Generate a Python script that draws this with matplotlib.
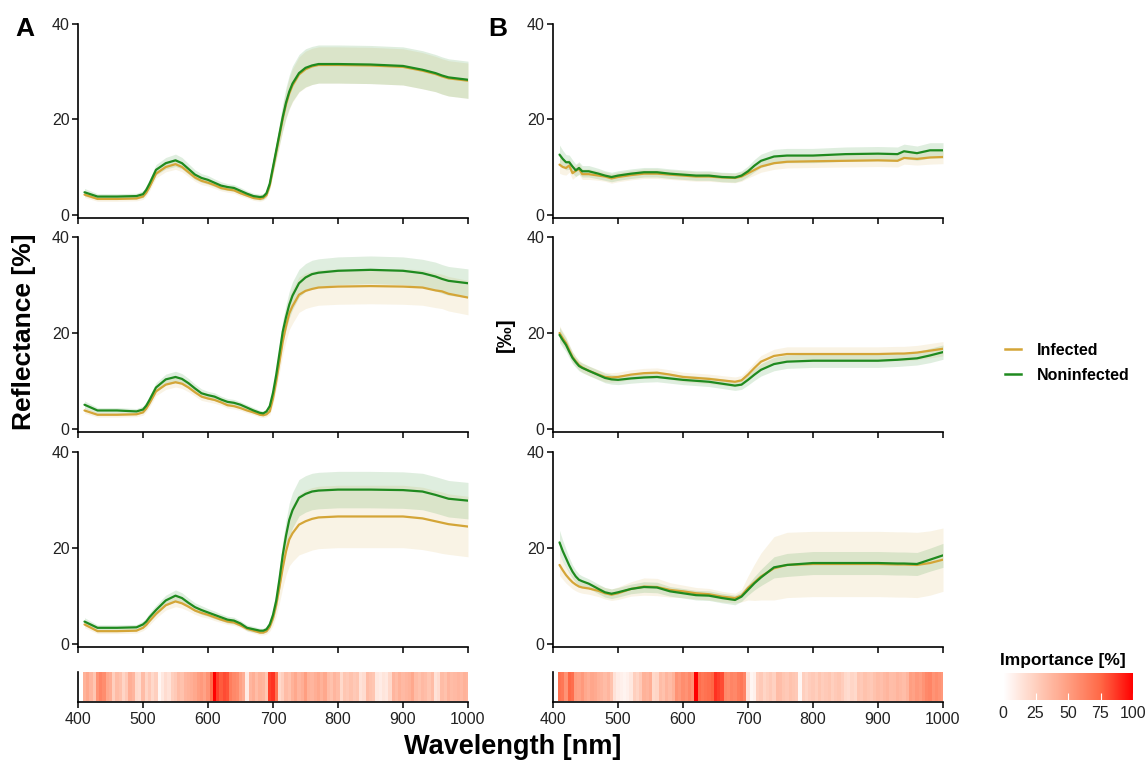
import numpy as np
import matplotlib
matplotlib.use("Agg")
import matplotlib.pyplot as plt
from matplotlib.colors import LinearSegmentedColormap
from matplotlib.lines import Line2D

plt.rcParams['font.family'] = ['Liberation Sans', 'DejaVu Sans']

# ---------------- data ----------------
wl_A = [410, 430, 460, 490, 500, 505, 510, 520, 535, 550, 560, 570, 580, 590, 600, 610,
        620, 630, 640, 650, 660, 670, 680, 685, 690, 695, 700, 705, 710, 715, 720, 725,
        730, 740, 750, 760, 770, 800, 850, 900, 930, 950, 960, 970, 1000]

A1_non = [4.7, 3.8, 3.8, 3.9, 4.3, 5.2, 6.5, 9.4, 10.8, 11.4, 10.8, 9.6, 8.4, 7.7, 7.3, 6.7,
          6.1, 5.8, 5.6, 5.0, 4.4, 3.9, 3.7, 3.8, 4.5, 6.5, 10.0, 13.5, 17.0, 20.5, 23.5, 25.8,
          27.5, 29.7, 30.8, 31.3, 31.6, 31.6, 31.5, 31.2, 30.4, 29.7, 29.2, 28.8, 28.3]
A1_inf = [4.2, 3.3, 3.3, 3.4, 3.8, 4.6, 5.8, 8.6, 10.0, 10.6, 10.0, 8.9, 7.8, 7.1, 6.7, 6.2,
          5.6, 5.3, 5.1, 4.5, 4.0, 3.5, 3.3, 3.5, 4.1, 6.1, 9.6, 13.1, 16.6, 20.1, 23.1, 25.4,
          27.1, 29.4, 30.5, 31.1, 31.4, 31.4, 31.3, 31.0, 30.2, 29.5, 29.0, 28.6, 28.1]
A2_non = [5.0, 3.8, 3.8, 3.6, 4.0, 4.8, 6.0, 8.6, 10.3, 10.8, 10.4, 9.5, 8.4, 7.4, 7.0, 6.7,
          6.1, 5.6, 5.4, 5.0, 4.4, 3.8, 3.3, 3.2, 3.6, 4.7, 7.5, 11.3, 15.8, 20.3, 23.3, 25.9,
          27.8, 30.4, 31.6, 32.3, 32.6, 33.0, 33.2, 33.0, 32.5, 31.8, 31.3, 30.9, 30.4]
A2_inf = [3.8, 2.9, 2.9, 3.0, 3.4, 4.2, 5.3, 7.8, 9.2, 9.7, 9.4, 8.6, 7.6, 6.7, 6.3, 6.0,
          5.5, 4.9, 4.7, 4.3, 3.8, 3.4, 2.9, 2.8, 3.0, 3.6, 6.3, 9.9, 14.0, 18.2, 21.4, 24.1,
          25.6, 28.0, 28.8, 29.2, 29.5, 29.7, 29.8, 29.7, 29.5, 28.9, 28.7, 28.2, 27.4]
A3_non = [4.6, 3.3, 3.3, 3.4, 4.0, 4.6, 5.5, 7.0, 9.0, 10.0, 9.5, 8.5, 7.6, 7.0, 6.5, 6.0,
          5.5, 5.0, 4.8, 4.2, 3.3, 3.0, 2.7, 2.7, 3.0, 4.0, 6.0, 9.0, 13.5, 18.5, 22.5, 25.8,
          27.8, 30.4, 31.2, 31.7, 31.9, 32.1, 32.1, 32.0, 31.7, 31.0, 30.6, 30.2, 29.8]
A3_inf = [4.0, 2.6, 2.6, 2.7, 3.3, 3.9, 4.7, 6.2, 8.0, 8.8, 8.4, 7.7, 6.9, 6.4, 6.0, 5.5,
          5.0, 4.6, 4.4, 3.8, 3.1, 2.7, 2.3, 2.3, 2.6, 3.5, 5.3, 8.1, 11.8, 15.8, 19.2, 21.7,
          23.0, 24.8, 25.5, 26.0, 26.3, 26.5, 26.5, 26.5, 26.1, 25.5, 25.2, 24.9, 24.4]

A1_non_sd = [0.8, 0.6, 0.6, 0.6, 0.7, 0.8, 0.9, 1.1, 1.2, 1.3, 1.2, 1.1, 1.0, 0.9, 0.9, 0.8,
             0.8, 0.7, 0.7, 0.7, 0.6, 0.6, 0.6, 0.6, 0.7, 0.9, 1.3, 1.8, 2.3, 2.8, 3.2, 3.5,
             3.7, 3.9, 4.0, 4.0, 4.0, 4.0, 4.0, 4.0, 4.0, 3.9, 3.9, 3.9, 3.9]
A1_inf_sd = [0.6, 0.5, 0.5, 0.5, 0.6, 0.7, 0.8, 0.9, 1.0, 1.1, 1.0, 0.9, 0.8, 0.8, 0.7, 0.7,
             0.6, 0.6, 0.6, 0.6, 0.5, 0.5, 0.5, 0.5, 0.6, 0.8, 1.1, 1.6, 2.1, 2.6, 3.0, 3.3,
             3.5, 3.7, 3.8, 3.8, 3.8, 3.8, 3.8, 3.8, 3.8, 3.7, 3.7, 3.7, 3.7]
A2_non_sd = [0.8, 0.6, 0.6, 0.6, 0.7, 0.8, 0.9, 1.0, 1.1, 1.2, 1.1, 1.0, 0.9, 0.9, 0.8, 0.8,
             0.7, 0.7, 0.7, 0.6, 0.6, 0.6, 0.5, 0.5, 0.6, 0.8, 1.1, 1.5, 1.9, 2.3, 2.6, 2.8,
             2.9, 2.9, 2.9, 2.9, 2.9, 2.9, 2.9, 2.9, 2.9, 3.0, 3.0, 3.0, 3.0]
A2_inf_sd = [0.6, 0.5, 0.5, 0.5, 0.6, 0.7, 0.8, 0.9, 1.0, 1.0, 1.0, 0.9, 0.8, 0.8, 0.7, 0.7,
             0.6, 0.6, 0.6, 0.5, 0.5, 0.5, 0.5, 0.5, 0.5, 0.7, 1.1, 1.6, 2.2, 2.7, 3.1, 3.4,
             3.6, 3.7, 3.7, 3.7, 3.7, 3.7, 3.7, 3.7, 3.7, 3.6, 3.6, 3.6, 3.6]
A3_non_sd = [0.8, 0.6, 0.6, 0.6, 0.7, 0.8, 0.9, 1.0, 1.1, 1.2, 1.1, 1.0, 0.9, 0.9, 0.8, 0.8,
             0.7, 0.7, 0.7, 0.6, 0.6, 0.6, 0.5, 0.5, 0.6, 0.8, 1.2, 1.7, 2.3, 2.8, 3.2, 3.5,
             3.7, 3.8, 3.8, 3.8, 3.8, 3.8, 3.8, 3.8, 3.8, 3.8, 3.8, 3.8, 3.8]
A3_inf_sd = [0.7, 0.5, 0.5, 0.5, 0.6, 0.7, 0.8, 0.9, 1.0, 1.1, 1.0, 0.9, 0.8, 0.8, 0.7, 0.7,
             0.6, 0.6, 0.6, 0.5, 0.5, 0.5, 0.5, 0.5, 0.6, 0.9, 1.5, 2.3, 3.2, 4.1, 4.9, 5.5,
             5.9, 6.3, 6.5, 6.5, 6.5, 6.5, 6.5, 6.5, 6.5, 6.4, 6.4, 6.3, 6.3]

wl_B = [410, 415, 420, 425, 430, 435, 440, 445, 455, 470, 480, 490, 500, 520, 540,
        560, 580, 600, 620, 640, 660, 680, 690, 700, 710, 720, 740, 760, 800, 850,
        900, 930, 940, 960, 980, 1000]

B1_non = [12.6, 11.7, 11.0, 11.0, 10.1, 9.3, 9.8, 9.1, 9.1, 8.6, 8.2, 7.9, 8.2, 8.6, 8.9,
          8.9, 8.6, 8.4, 8.2, 8.2, 7.9, 7.8, 8.2, 9.1, 10.3, 11.3, 12.2, 12.4, 12.4, 12.7,
          12.8, 12.7, 13.3, 12.9, 13.5, 13.5]
B1_inf = [10.5, 10.0, 9.8, 10.3, 8.7, 9.2, 9.6, 8.5, 8.5, 8.2, 8.0, 7.6, 7.9, 8.3, 8.6,
          8.6, 8.4, 8.2, 8.0, 8.0, 7.8, 7.7, 8.0, 8.7, 9.4, 10.1, 10.8, 11.1, 11.2, 11.3,
          11.4, 11.3, 11.9, 11.7, 12.0, 12.1]
B2_non = [19.6, 18.5, 17.5, 16.1, 14.8, 13.9, 13.1, 12.7, 12.1, 11.2, 10.6, 10.3, 10.2, 10.5, 10.7,
          10.8, 10.5, 10.2, 10.0, 9.8, 9.4, 9.0, 9.2, 10.2, 11.3, 12.3, 13.5, 14.0, 14.2, 14.2,
          14.2, 14.4, 14.5, 14.7, 15.3, 16.0]
B2_inf = [20.0, 18.9, 17.9, 16.4, 15.0, 14.1, 13.3, 12.8, 12.1, 11.3, 10.8, 10.7, 10.8, 11.3, 11.6,
          11.7, 11.3, 10.8, 10.6, 10.4, 10.1, 9.8, 10.1, 11.3, 12.7, 14.0, 15.2, 15.6, 15.6, 15.6,
          15.6, 15.7, 15.7, 15.9, 16.3, 16.7]
B3_non = [21.1, 19.3, 17.8, 16.3, 15.0, 14.0, 13.3, 13.0, 12.5, 11.4, 10.7, 10.4, 10.7, 11.4, 11.8,
          11.7, 10.9, 10.5, 10.1, 10.0, 9.5, 9.1, 9.8, 11.2, 12.6, 13.8, 15.9, 16.4, 16.8, 16.8,
          16.8, 16.7, 16.7, 16.6, 17.5, 18.4]
B3_inf = [16.4, 15.3, 14.3, 13.5, 12.8, 12.3, 11.9, 11.7, 11.5, 11.0, 10.5, 10.2, 10.5, 11.4, 11.9,
          11.8, 11.2, 10.9, 10.5, 10.3, 9.8, 9.5, 10.0, 11.6, 12.8, 14.0, 15.7, 16.4, 16.6, 16.6,
          16.6, 16.5, 16.5, 16.4, 16.8, 17.5]

B1_non_sd = [2.0, 1.8, 1.6, 1.5, 1.4, 1.3, 1.3, 1.2, 1.2, 1.1, 1.0, 1.0, 1.0, 1.0, 1.0,
             1.0, 1.0, 1.0, 1.0, 1.0, 1.0, 1.0, 1.0, 1.1, 1.3, 1.4, 1.5, 1.5, 1.5, 1.5,
             1.5, 1.5, 1.5, 1.5, 1.6, 1.6]
B1_inf_sd = [1.8, 1.6, 1.5, 1.4, 1.3, 1.2, 1.2, 1.1, 1.1, 1.0, 1.0, 1.0, 1.0, 1.0, 1.0,
             1.0, 1.0, 1.0, 1.0, 1.0, 1.0, 1.0, 1.0, 1.0, 1.1, 1.2, 1.3, 1.3, 1.3, 1.3,
             1.3, 1.3, 1.3, 1.3, 1.4, 1.4]
B2_non_sd = [1.6, 1.5, 1.4, 1.3, 1.2, 1.1, 1.0, 1.0, 1.0, 1.0, 1.0, 1.0, 1.0, 1.0, 1.0,
             1.0, 1.0, 1.0, 1.0, 1.0, 1.0, 1.0, 1.0, 1.1, 1.2, 1.3, 1.4, 1.4, 1.4, 1.4,
             1.4, 1.4, 1.4, 1.4, 1.5, 1.5]
B2_inf_sd = [1.5, 1.4, 1.3, 1.2, 1.1, 1.0, 1.0, 1.0, 1.0, 1.0, 1.0, 1.0, 1.0, 1.0, 1.0,
             1.0, 1.0, 1.0, 1.0, 1.0, 1.0, 1.0, 1.0, 1.1, 1.2, 1.3, 1.4, 1.5, 1.5, 1.5,
             1.5, 1.5, 1.5, 1.5, 1.5, 1.5]
B3_non_sd = [2.5, 2.2, 1.9, 1.6, 1.4, 1.3, 1.2, 1.1, 1.0, 1.0, 1.0, 1.0, 1.0, 1.0, 1.1,
             1.1, 1.0, 1.0, 1.0, 1.0, 1.0, 1.0, 1.0, 1.1, 1.4, 1.7, 2.2, 2.4, 2.4, 2.4,
             2.4, 2.4, 2.4, 2.4, 2.4, 2.5]
B3_inf_sd = [2.2, 1.9, 1.7, 1.5, 1.4, 1.3, 1.2, 1.2, 1.2, 1.2, 1.2, 1.2, 1.3, 1.5, 1.8,
             1.8, 1.5, 1.3, 1.2, 1.2, 1.1, 1.0, 1.3, 2.5, 3.8, 4.9, 6.6, 6.8, 6.8, 6.8,
             6.8, 6.8, 6.8, 6.8, 6.7, 6.6]

# importance (%) on a 5 nm grid, 410..1000 nm
imp_wl = list(range(410, 1001, 5))
imp_A = [40, 45, 38, 30, 55, 62, 58, 45, 42, 25,
         35, 32, 22, 28, 42, 38, 20, 18, 35, 22,
         28, 20, 25, 5, 12, 18, 15, 25, 28, 35,
         32, 38, 40, 42, 45, 50, 52, 48, 55, 72,
         100, 85, 78, 82, 80, 65, 60, 58, 48, 42,
         10, 38, 42, 35, 40, 38, 30, 85, 88, 70,
         20, 25, 35, 32, 40, 45, 38, 42, 50, 40,
         38, 42, 45, 40, 45, 35, 32, 38, 35, 20,
         30, 28, 32, 28, 30, 15, 18, 35, 32, 30,
         12, 10, 14, 12, 20, 38, 35, 40, 36, 38,
         40, 45, 35, 32, 36, 34, 30, 35, 15, 18,
         35, 32, 38, 35, 36, 38, 36, 40, 38]
imp_B = [70, 68, 55, 75, 72, 50, 48, 52, 45, 42,
         46, 44, 40, 38, 35, 38, 32, 15, 10, 8,
         6, 8, 12, 25, 22, 28, 40, 38, 42, 20,
         22, 35, 32, 38, 35, 40, 55, 52, 58, 55,
         60, 55, 100, 72, 68, 70, 72, 75, 88, 85,
         82, 60, 58, 62, 60, 65, 68, 62, 15, 5,
         8, 25, 28, 22, 25, 28, 24, 35, 34, 30,
         28, 32, 30, 28, 5, 25, 22, 26, 28, 25,
         30, 26, 28, 30, 25, 28, 30, 26, 20, 18,
         22, 20, 30, 28, 32, 30, 28, 32, 35, 33,
         36, 38, 34, 35, 38, 36, 34, 38, 50, 48,
         52, 50, 55, 60, 62, 55, 58, 55, 52]

labels = ["Infected", "Noninfected"]
colors = ["#D4A537", "#1F8A1F"]
x_ticks = [400, 500, 600, 700, 800, 900, 1000]
y_ticks = [0, 20, 40]
cbar_ticks = [0, 25, 50, 75, 100]

# ---------------- figure ----------------
W, H = 1148, 762
fig = plt.figure(figsize=(W / 100, H / 100), dpi=100)

def px_axes(x0, x1, ytop, ybot):
    return fig.add_axes([x0 / W, 1 - ybot / H, (x1 - x0) / W, (ybot - ytop) / H])

tick_col = "#222222"

def style(ax, show_xlabels):
    for s in ["top", "right"]:
        ax.spines[s].set_visible(False)
    for s in ["left", "bottom"]:
        ax.spines[s].set_linewidth(1.2)
        ax.spines[s].set_color("black")
    ax.tick_params(axis="both", length=4, width=1.1, color="black",
                   labelsize=11.5, labelcolor=tick_col, pad=2)
    ax.set_xticks(x_ticks)
    ax.set_xlim(400, 1000)
    if not show_xlabels:
        ax.set_xticklabels([])

rows_px = [(24, 218), (237.3, 432), (451.7, 647)]
cols_px = [(78, 468), (553, 943)]

panels = {
    (0, 0): (wl_A, A1_inf, A1_inf_sd, A1_non, A1_non_sd),
    (1, 0): (wl_A, A2_inf, A2_inf_sd, A2_non, A2_non_sd),
    (2, 0): (wl_A, A3_inf, A3_inf_sd, A3_non, A3_non_sd),
    (0, 1): (wl_B, B1_inf, B1_inf_sd, B1_non, B1_non_sd),
    (1, 1): (wl_B, B2_inf, B2_inf_sd, B2_non, B2_non_sd),
    (2, 1): (wl_B, B3_inf, B3_inf_sd, B3_non, B3_non_sd),
}

for (r, c), (wl, inf, inf_sd, non, non_sd) in panels.items():
    ax = px_axes(cols_px[c][0], cols_px[c][1], rows_px[r][0], rows_px[r][1])
    wl = np.array(wl)
    series = [(np.array(inf), np.array(inf_sd)), (np.array(non), np.array(non_sd))]
    alphas = [0.13, 0.14]
    for (m, s), col, a in zip(series, colors, alphas):
        ax.fill_between(wl, m - s, m + s, color=col, alpha=a, lw=0)
    for (m, s), col in zip(series, colors):
        ax.plot(wl, m, color=col, lw=1.6, solid_capstyle="round", solid_joinstyle="round")
    ax.set_ylim(-0.7, 40)
    ax.set_yticks(y_ticks)
    style(ax, False)

# white -> red gradient (Lab-like interpolation, as in ggplot)
cmap = LinearSegmentedColormap.from_list(
    "imp", ["#FFFFFF", "#FFCFBE", "#FF9E81", "#FF6846", "#FF0000"])
iw = np.array(imp_wl, dtype=float)
edges = np.append(iw - 2.5, iw[-1] + 2.5)
for c, imp in enumerate([imp_A, imp_B]):
    ax = px_axes(cols_px[c][0], cols_px[c][1], 672, 702)
    ax.pcolormesh(edges, [0.03, 1], np.array([imp], dtype=float), cmap=cmap,
                  vmin=0, vmax=100, shading="flat")
    ax.set_ylim(0, 1.0)
    ax.set_yticks([])
    style(ax, True)
    ax.tick_params(axis="x", pad=3)

# colorbar
cax = px_axes(1003, 1133, 673, 700)
grad = np.linspace(0, 100, 256)
cax.pcolormesh(grad, [0, 1], np.array([grad[:-1]]), cmap=cmap, vmin=0, vmax=100, shading="flat")
cax.set_xlim(0, 100)
cax.set_ylim(0, 1)
for s in cax.spines.values():
    s.set_visible(False)
cax.set_yticks([])
cax.set_xticks(cbar_ticks)
cax.set_xticklabels([str(t) for t in cbar_ticks])
cax.tick_params(axis="x", direction="in", length=5, width=0.8, color="white",
                labelsize=11.5, labelcolor=tick_col, pad=4)
fig.text(1000 / W, 1 - 660 / H, "Importance [%]", fontsize=12.5, fontweight="bold",
         ha="left", va="center")

# texts
fig.text(25 / W, 1 - 29 / H, "A", fontsize=19, fontweight="bold", ha="center", va="center")
fig.text(498 / W, 1 - 29 / H, "B", fontsize=19, fontweight="bold", ha="center", va="center")
fig.text(24 / W, 1 - 332 / H, "Reflectance [%]", fontsize=19, fontweight="bold",
         rotation=90, ha="center", va="center")
fig.text(505 / W, 1 - 335 / H, "[‰]", fontsize=15, fontweight="bold",
         rotation=90, ha="center", va="center")
fig.text(513 / W, 1 - 747 / H, "Wavelength [nm]", fontsize=19.5, fontweight="bold",
         ha="center", va="center")

handles = [Line2D([0], [0], color=col, lw=1.8) for col in colors]
fig.legend(handles, labels, loc="center left", bbox_to_anchor=(991 / W, 1 - 363 / H),
           frameon=False, prop={"weight": "bold", "size": 11.5}, handlelength=1.0,
           handletextpad=0.95, labelspacing=0.62)

fig.savefig("out.png", dpi=100)
